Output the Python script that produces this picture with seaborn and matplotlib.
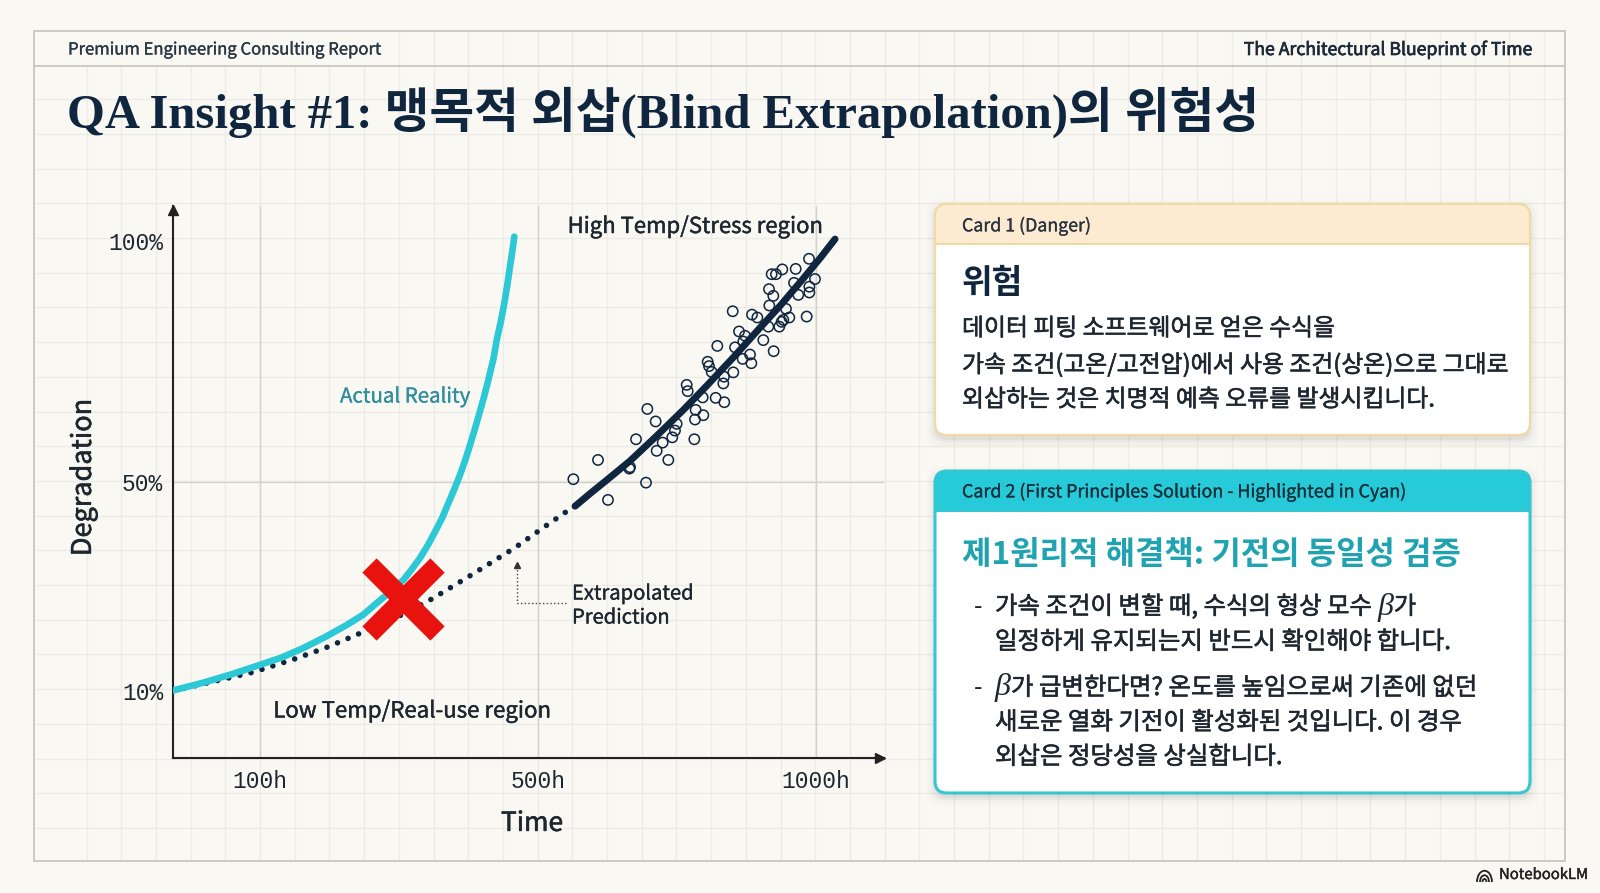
import numpy as np
import pandas as pd
import matplotlib
matplotlib.use("Agg")
import matplotlib.pyplot as plt
import matplotlib.patheffects as pe
import seaborn as sns
from matplotlib.patches import FancyBboxPatch, Rectangle, Arc

# Values
x_ticks = [100, 500, 1000]
x_tick_labels = ["100h", "500h", "1000h"]
y_ticks = [10, 50, 100]
y_tick_labels = ["10%", "50%", "100%"]

actual_hours = [0, 35, 67.4, 100, 131.2, 162.3, 193.5, 224.8, 248.7, 267.9, 287, 306.2, 318.7, 330.2, 341.7,
                351.8, 362.6, 369.8, 379.2, 387.8, 395.4, 402.2, 408.7, 415.9, 422.3, 428.5,
                436, 440.6, 446.4, 451.1, 455.9, 459.7, 463, 465.9]
actual_pct = [10.1, 11.6, 13.2, 15.0, 16.4, 18.2, 20.3, 22.6, 24.6, 26.8, 28.9, 31.2, 33.3, 35.4, 37.9,
              40.4, 43.2, 45.5, 48.4, 51.4, 54.5, 57.6, 60.7, 64.3, 67.6, 71.1,
              75.6, 79.4, 83.2, 86.7, 90.9, 94.7, 97.8, 100.9]

extrap_hours = [0, 92.3, 149.4, 193.5, 236.7, 300, 347.5, 399.6, 466, 521.6, 566.7]
extrap_pct = [10, 13.6, 16.1, 18.2, 20.6, 24.3, 27.6, 31.8, 37.3, 42.1, 45.4]

fit_hours = [566.7, 593.7, 623.7, 665.8, 713.8, 761.9, 803.9, 851.9, 894, 936, 978, 1008.1, 1035.1]
fit_pct = [45.3, 47.7, 50.3, 54.3, 59.5, 64.9, 69.9, 75.8, 81.2, 86.5, 92.2, 96.4, 100.4]

obs_hours = [563.7, 608.1, 626.1, 665.8, 664.6, 676.6, 694.6, 697.0, 712.0, 713.8, 724.6,
             734.8, 742.0, 746.8, 749.8, 781.7, 782.9, 784.1, 797.9, 796.7, 820.1, 835.7,
             767.9, 769.7, 805.7, 808.1, 812.9, 833.9, 835.1, 851.9, 823.1, 855.0, 868.8,
             882.0, 884.4, 862.2, 873.0, 870.0, 850.8, 885.6, 895.2, 906.0, 924.6, 915.0,
             916.8, 924.0, 916.2, 921.0, 928.8, 940.2, 964.3, 988.3, 961.3, 969.0, 988.9,
             988.9, 999.1, 984.1, 952.8, 946.8, 939.0, 934.8, 942.0]
obs_pct = [50.5, 54.5, 46.5, 53.0, 52.7, 58.8, 49.8, 65.1, 62.5, 56.4, 58.1,
           54.5, 59.2, 60.6, 62.0, 58.8, 62.9, 64.9, 63.8, 67.5, 67.4, 66.5,
           70.1, 68.8, 74.9, 74.0, 72.8, 70.4, 71.8, 72.7, 78.2, 77.9, 75.5,
           76.4, 74.6, 81.2, 80.3, 79.1, 85.4, 84.7, 84.1, 79.4, 77.1, 82.2,
           86.6, 88.6, 90.0, 93.1, 93.1, 94.1, 94.2, 96.3, 91.3, 88.8, 90.5,
           89.3, 92.1, 84.3, 84.1, 85.9, 83.2, 82.2, 83.6]

fail_hours = [305.8]
fail_pct = [27.6]

# The axes of the original are not linear, so they get piecewise scales
x_anchor_h = [0, 100, 500, 1000, 1123]
x_anchor_px = [0, 87, 365, 642.5, 711]
y_anchor_p = [0, 10, 50, 100, 107.3]
y_anchor_px = [0, 67, 276.4, 517, 552]

title_text = "QA Insight #1: 맹목적 외삽(Blind Extrapolation)의 위험성"
card1_lines = ["데이터 피팅 소프트웨어로 얻은 수식을",
               "가속 조건(고온/고전압)에서 사용 조건(상온)으로 그대로",
               "외삽하는 것은 치명적 예측 오류를 발생시킵니다."]

NAVY = "#10263F"
INK = "#1E2630"
CYAN = "#2CC8D5"
TEAL = "#1FA3B1"
RED = "#E8120F"
BG = "#F9F8F3"
GRID = "#ECEBE5"
SANS = ["Noto Sans CJK KR", "DejaVu Sans"]
SERIF = ["Liberation Serif", "Noto Sans CJK KR"]

sns.set_theme(style="white")
plt.rcParams["font.family"] = SANS


def medium(color, width=0.4):
    # no medium weight installed, a thin stroke stands in for it
    return [pe.withStroke(linewidth=width, foreground=color)]


fig = plt.figure(figsize=(16, 8.93), dpi=100, facecolor=BG)

# Page layer in pixel coordinates
bg = fig.add_axes([0, 0, 1, 1], zorder=0)
bg.set_xlim(0, 1600)
bg.set_ylim(893, 0)
bg.axis("off")

for gx in np.arange(260 - 34.7 * 5, 1565, 34.7):
    top_y = 31 if gx > 398 else 66
    bg.plot([gx, gx], [top_y, 861], color=GRID, lw=1, zorder=0.5)
for gy in np.arange(481 - 34.7 * 11, 861, 34.7):
    bg.plot([34, 1565], [gy, gy], color=GRID, lw=1, zorder=0.5)
bg.add_patch(Rectangle((34, 31), 1531, 830, fill=False, ec="#C8C7BE", lw=1.3, zorder=0.6))
bg.plot([34, 1565], [66, 66], color="#C8C7BE", lw=1.3, zorder=0.6)

bg.text(68, 50, "Premium Engineering Consulting Report", fontsize=12.0, color="#2A3643", va="center",
        path_effects=medium("#2A3643", 0.2))
bg.text(1532, 50, "The Architectural Blueprint of Time", fontsize=12.7, color="#1E2A38", va="center", ha="right",
        path_effects=medium("#1E2A38", 0.5))
bg.text(67, 112, title_text, family=SERIF, fontsize=35, weight="bold", color=NAVY, va="center")


def draw_card(x0, y0, x1, y1, head_y, head_color, edge, edge_w):
    for grow, alpha in [(9, 0.012), (6, 0.018), (3, 0.03), (1, 0.04)]:
        bg.add_patch(FancyBboxPatch((x0 - grow, y0 - grow + 4), x1 - x0 + 2 * grow, y1 - y0 + 2 * grow,
                                    boxstyle="round,pad=0,rounding_size=14", fc="black", ec="none", alpha=alpha))
    card = FancyBboxPatch((x0, y0), x1 - x0, y1 - y0, boxstyle="round,pad=0,rounding_size=12",
                          fc="white", ec="none")
    bg.add_patch(card)
    head = Rectangle((x0, y0), x1 - x0, head_y - y0, fc=head_color, ec="none")
    bg.add_patch(head)
    head.set_clip_path(card)
    bg.plot([x0, x1], [head_y, head_y], color=edge, lw=1.5)
    bg.add_patch(FancyBboxPatch((x0, y0), x1 - x0, y1 - y0, boxstyle="round,pad=0,rounding_size=12",
                                fc="none", ec=edge, lw=edge_w))


draw_card(935, 204, 1530, 435, 244, "#FCEBD0", "#F0D9A6", 1.6)
draw_card(935, 471, 1530, 793, 511, "#27CAD8", "#35C6D2", 2.2)

bg.text(962, 226, "Card 1 (Danger)", fontsize=12.8, color="#2A3340", va="center", path_effects=medium("#2A3340", 0.2))
bg.text(962, 283, "위험", fontsize=24, weight="bold", color=NAVY, va="center")
for line, ly in zip(card1_lines, [329, 365, 400]):
    bg.text(962, ly, line, fontsize=17.2, color=INK, va="center", path_effects=medium(INK))

bg.text(962, 492, "Card 2 (First Principles Solution - Highlighted in Cyan)", fontsize=12.85, color="#17313C", va="center",
        path_effects=medium("#17313C", 0.2))
bg.text(962, 555, "제1원리적 해결책: 기전의 동일성 검증", fontsize=23, weight="bold", color=TEAL, va="center")

renderer = fig.canvas.get_renderer()


def text_run(x, y, parts):
    # Hangul and the italic beta sit in one line, one after the other
    for part in parts:
        if part == "β":
            t = bg.text(x, y, part, family="Liberation Serif", style="italic", fontsize=23, color=INK, va="center")
        else:
            t = bg.text(x, y, part, fontsize=17.6, color=INK, va="center", path_effects=medium(INK))
        x = t.get_window_extent(renderer).x1


bg.text(974, 607, "-", fontsize=17.6, color=INK, va="center")
text_run(995, 607, ["가속 조건이 변할 때, 수식의 형상 모수 ", "β", "가"])
text_run(995, 642, ["일정하게 유지되는지 반드시 확인해야 합니다."])
bg.text(974, 688, "-", fontsize=17.6, color=INK, va="center")
text_run(995, 688, ["β", "가 급변한다면? 온도를 높임으로써 기존에 없던"])
text_run(995, 722.5, ["새로운 열화 기전이 활성화된 것입니다. 이 경우"])
text_run(995, 757, ["외삽은 정당성을 상실합니다."])

# NotebookLM mark
for w in [15, 9, 4]:
    bg.add_patch(Arc((1484.5, 882), w, w * 1.5, theta1=180, theta2=360, color="#222222", lw=1.3))
bg.text(1499, 875, "NotebookLM", fontsize=10.7, color="#222222", va="center", path_effects=medium("#222222", 0.3))

# Chart layer
ax = fig.add_axes([173 / 1600, 1 - 758 / 893, 711 / 1600, 552 / 893], zorder=1)
ax.patch.set_alpha(0)
ax.set_xscale("function", functions=(lambda v: np.interp(v, x_anchor_h, x_anchor_px),
                                     lambda v: np.interp(v, x_anchor_px, x_anchor_h)))
ax.set_yscale("function", functions=(lambda v: np.interp(v, y_anchor_p, y_anchor_px),
                                     lambda v: np.interp(v, y_anchor_px, y_anchor_p)))

actual = pd.DataFrame({"hours": actual_hours, "pct": actual_pct})
extrap = pd.DataFrame({"hours": extrap_hours, "pct": extrap_pct})
fit = pd.DataFrame({"hours": fit_hours, "pct": fit_pct})
obs = pd.DataFrame({"hours": obs_hours, "pct": obs_pct})
fail = pd.DataFrame({"hours": fail_hours, "pct": fail_pct})

ax.grid(False)
for tick in x_ticks:
    ax.axvline(tick, color="#D2D1CA", lw=1, zorder=0)
ax.axhline(50, color="#D2D1CA", lw=1, zorder=0)

sns.lineplot(data=extrap, x="hours", y="pct", ax=ax, color=NAVY, lw=4, errorbar=None, sort=False,
             linestyle=(0, (0.01, 2.05)), dash_capstyle="round", zorder=2)
sns.lineplot(data=actual, x="hours", y="pct", ax=ax, color=CYAN, lw=4.8, errorbar=None, sort=False,
             solid_capstyle="round", solid_joinstyle="round", zorder=3)
sns.scatterplot(data=obs, x="hours", y="pct", ax=ax, s=55, facecolors="none", edgecolor=NAVY, linewidth=1.1, zorder=4)
sns.lineplot(data=fit, x="hours", y="pct", ax=ax, color=NAVY, lw=5, errorbar=None, sort=False,
             solid_capstyle="round", solid_joinstyle="round", zorder=5)
sns.scatterplot(data=fail, x="hours", y="pct", ax=ax, marker="x", s=2400, color=RED, linewidth=14.5, zorder=6)

ax.set_xlim(0, 1123)
ax.set_ylim(0, 107.3)
ax.set_xticks(x_ticks, x_tick_labels, family="Liberation Mono", fontsize=16.5, color=INK)
ax.set_yticks(y_ticks, y_tick_labels, family="Liberation Mono", fontsize=16.5, color=INK)
ax.tick_params(axis="x", direction="in", length=7, width=1.2, color="#333333", pad=9)
ax.tick_params(axis="y", length=0, pad=7)
ax.set_xlabel("Time", fontsize=19, color=INK, path_effects=medium(INK))
ax.set_ylabel("Degradation", fontsize=19.5, color=INK, path_effects=medium(INK))
ax.xaxis.set_label_coords(0.505, -0.094)
ax.yaxis.set_label_coords(-0.107, 0.508)
sns.despine(ax=ax)
for side in ["left", "bottom"]:
    ax.spines[side].set_color("#222222")
    ax.spines[side].set_linewidth(1.5)
ax.plot(0.994, 0, ">", color="#222222", ms=7, transform=ax.transAxes, clip_on=False)
ax.plot(0, 0.992, "^", color="#222222", ms=7, transform=ax.transAxes, clip_on=False)

# Region labels and the callout
top = fig.add_axes([0, 0, 1, 1], zorder=2)
top.set_xlim(0, 1600)
top.set_ylim(893, 0)
top.axis("off")
top.text(695, 227, "High Temp/Stress region", fontsize=15.9, color=INK, ha="center", va="center", path_effects=medium(INK, 0.3))
top.text(405, 397, "Actual Reality", fontsize=14.7, color="#2F8F9C", ha="center", va="center", path_effects=medium("#2F8F9C", 0.2))
top.text(412, 711, "Low Temp/Real-use region", fontsize=16, color=INK, ha="center", va="center", path_effects=medium(INK, 0.3))
top.text(572, 594, "Extrapolated", fontsize=14.5, color=INK, va="center", path_effects=medium(INK, 0.25))
top.text(572, 618, "Prediction", fontsize=14.5, color=INK, va="center", path_effects=medium(INK, 0.25))
top.plot([566, 517, 517], [603, 603, 568], color="#444444", lw=1, ls=":")
top.plot(517, 565, "^", color="#333333", ms=4)

fig.savefig("out.png", dpi=100, facecolor=BG)
